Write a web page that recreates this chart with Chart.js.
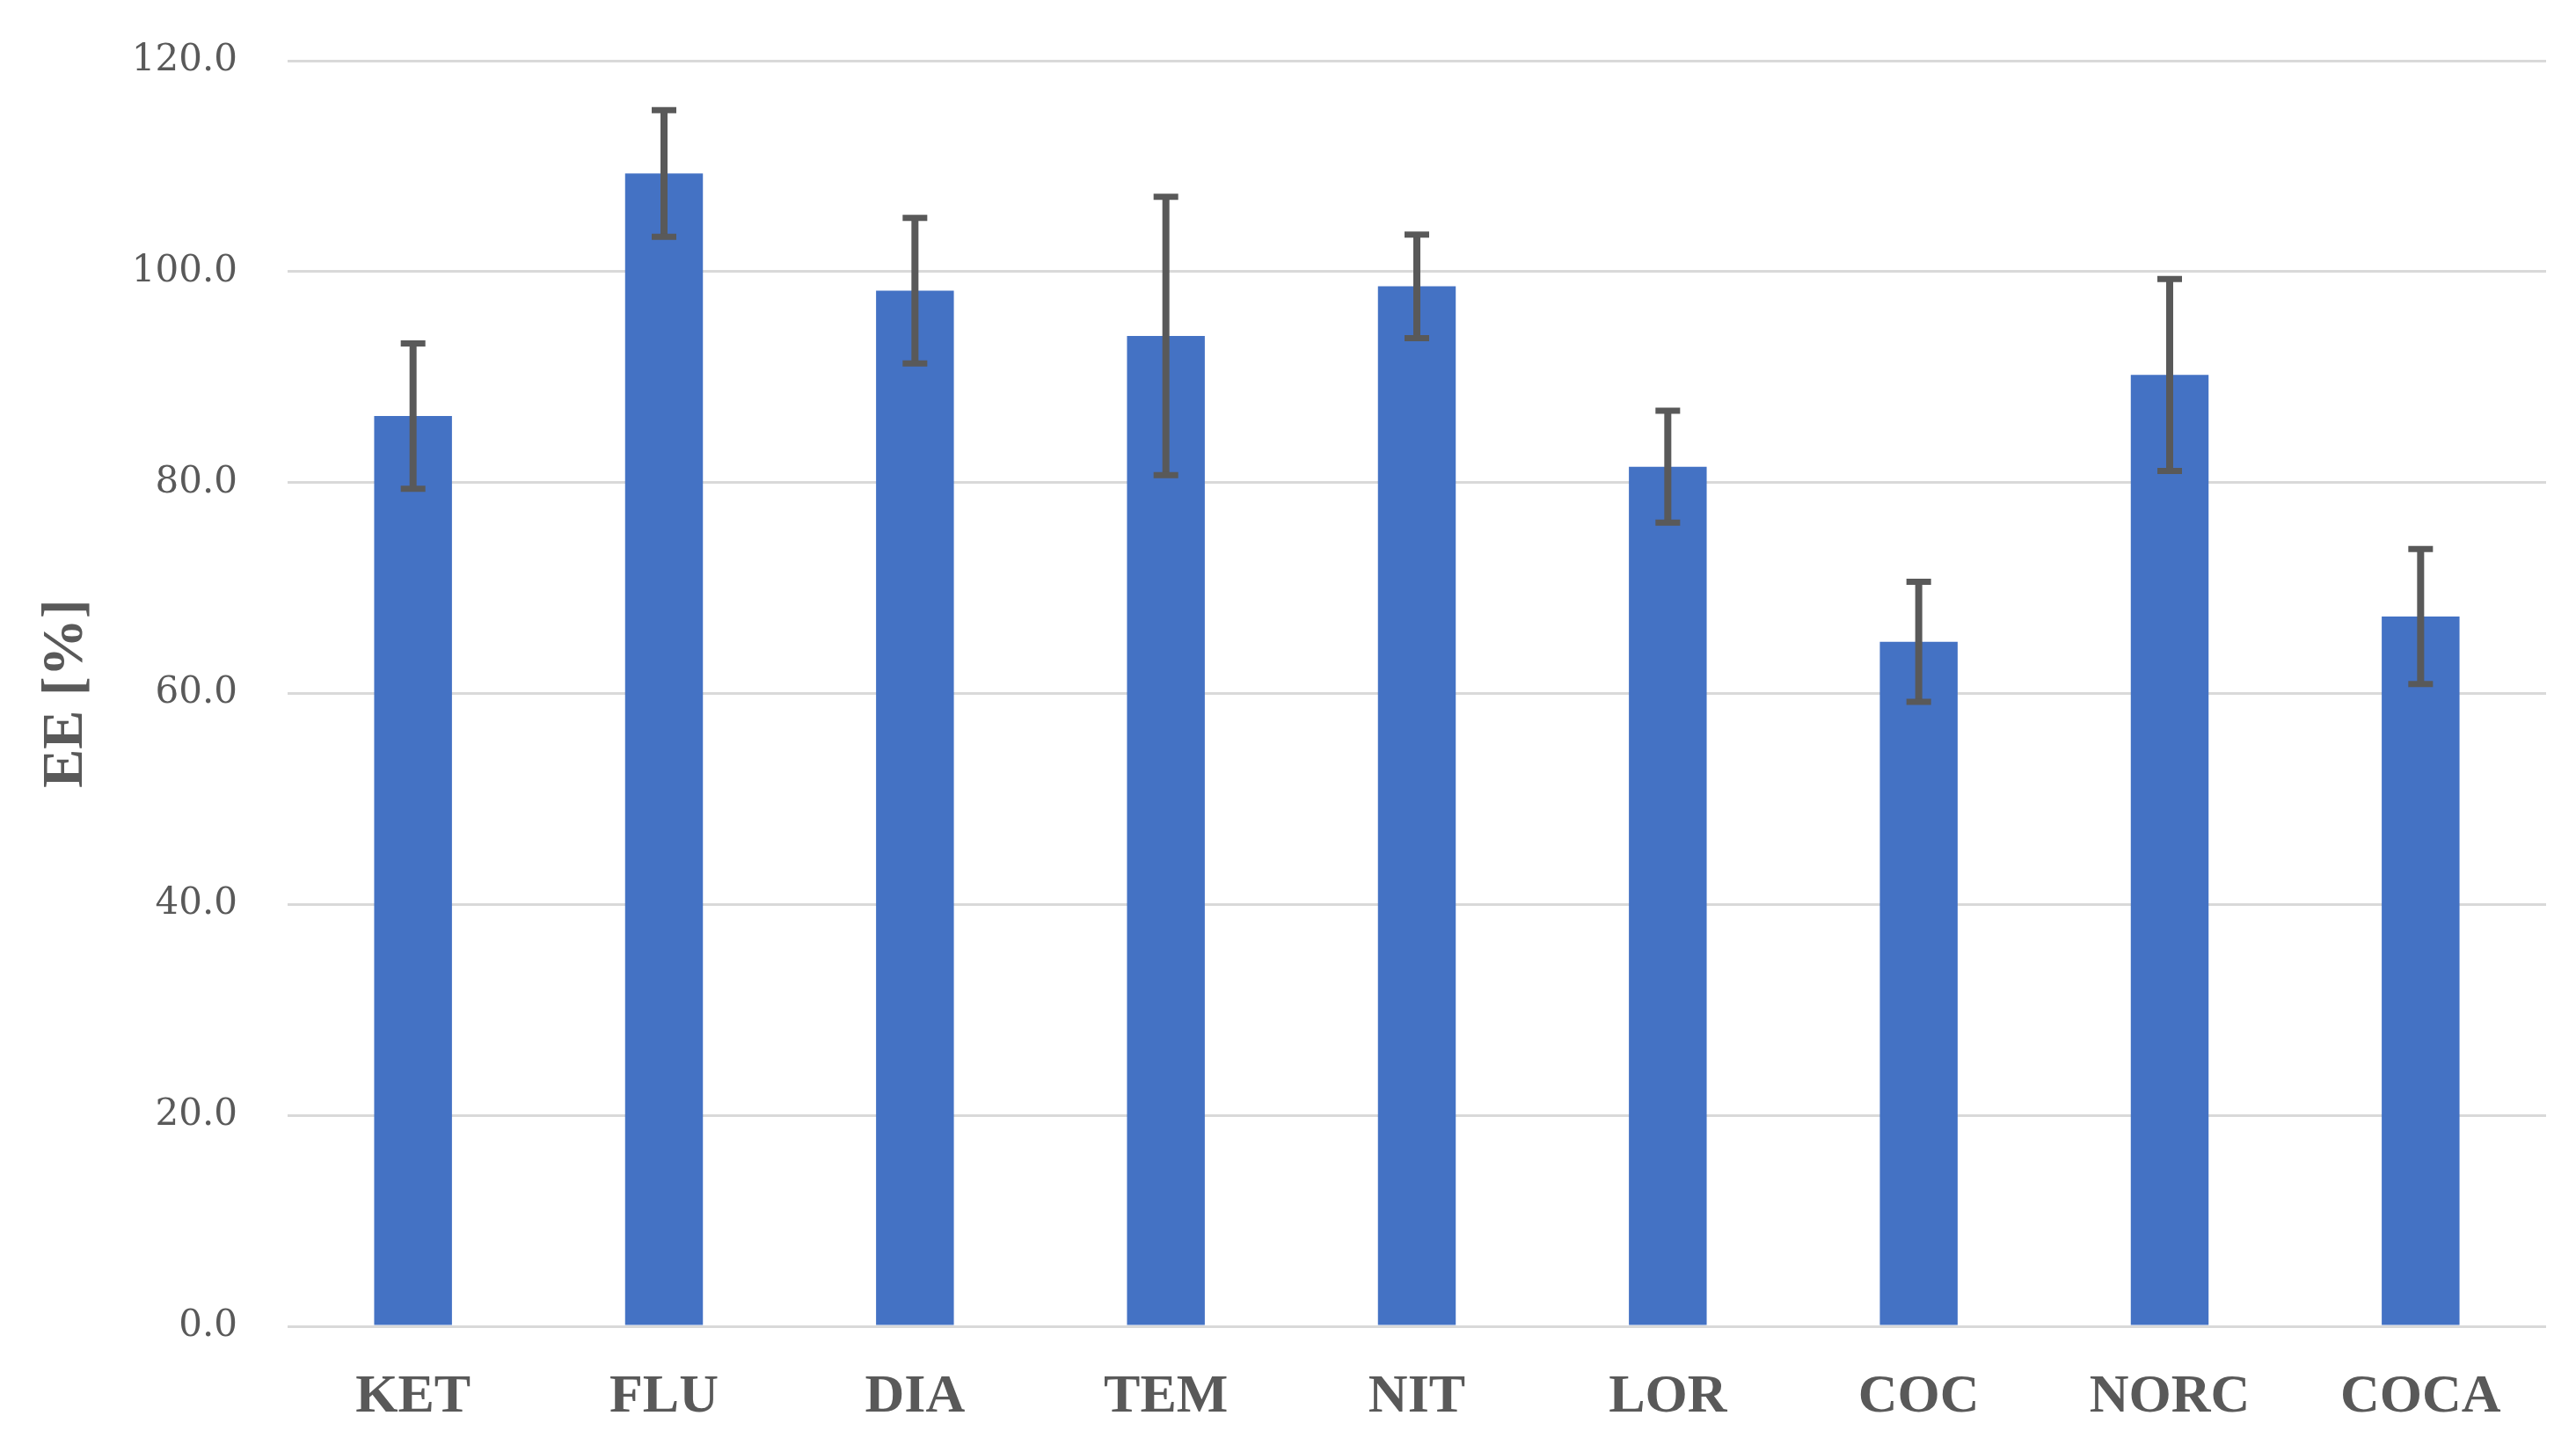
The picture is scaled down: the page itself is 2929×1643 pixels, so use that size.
<!DOCTYPE html>
<html>
<head>
<meta charset="utf-8">
<script src="https://cdn.jsdelivr.net/npm/chart.js@4/dist/chart.umd.min.js"></script>
<style>
html,body{margin:0;padding:0;background:#fff;}
#wrap{width:2929px;height:1643px;position:relative;}
</style>
</head>
<body>
<div id="wrap"><canvas id="c"></canvas></div>
<script>
const categories = ["KET","FLU","DIA","TEM","NIT","LOR","COC","NORC","COCA"];
const eeValues = [86.3, 109.3, 98.2, 93.9, 98.6, 81.5, 64.9, 90.2, 67.3];
const eeErrors = [6.9, 6.0, 6.9, 13.2, 4.9, 5.3, 5.7, 9.1, 6.4];
const yTicks = [0, 20, 40, 60, 80, 100, 120];

const errorBarPlugin = {
  id: 'errorBars',
  afterDatasetsDraw(chart) {
    const ctx = chart.ctx;
    const meta = chart.getDatasetMeta(0);
    const y = chart.scales.y;
    ctx.save();
    ctx.strokeStyle = '#595959';
    ctx.lineCap = 'butt';
    meta.data.forEach((bar, i) => {
      const v = eeValues[i], e = eeErrors[i];
      const top = y.getPixelForValue(v + e);
      const bot = y.getPixelForValue(v - e);
      const x = bar.x;
      ctx.lineWidth = 8;
      ctx.beginPath();
      ctx.moveTo(x, top); ctx.lineTo(x, bot);
      ctx.stroke();
      ctx.lineWidth = 7;
      ctx.beginPath();
      ctx.moveTo(x - 14, top); ctx.lineTo(x + 14, top);
      ctx.moveTo(x - 14, bot); ctx.lineTo(x + 14, bot);
      ctx.stroke();
    });
    ctx.restore();
  }
};

new Chart(document.getElementById('c'), {
  type: 'bar',
  data: {
    labels: categories,
    datasets: [{
      data: eeValues,
      backgroundColor: '#4472C4',
      borderWidth: 0,
      barPercentage: 0.31,
      categoryPercentage: 1.0
    }]
  },
  options: {
    responsive: true,
    maintainAspectRatio: false,
    animation: false,
    devicePixelRatio: 1,
    layout: { padding: { top: 69, right: 34, left: 0, bottom: 0 } },
    plugins: { legend: { display: false }, tooltip: { enabled: false } },
    scales: {
      x: {
        grid: { display: false, drawTicks: false },
        border: { display: false },
        ticks: {
          color: '#595959',
          font: { family: 'Liberation Serif', size: 62, weight: 'bold' },
          padding: 44
        },
        afterFit(s) { s.height = 135; s.paddingLeft = 0; s.paddingRight = 0; }
      },
      y: {
        min: 0, max: 120,
        afterBuildTicks(s) { s.ticks = yTicks.map(v => ({ value: v })); },
        grid: { color: '#d9d9d9', lineWidth: 3, drawTicks: false },
        border: { display: false },
        ticks: {
          color: '#595959',
          font: { family: 'DejaVu Serif', size: 42 },
          padding: 57,
          callback: v => Number(v).toFixed(1)
        },
        title: {
          display: true,
          text: 'EE [%]',
          color: '#595959',
          font: { family: 'Liberation Serif', size: 66, weight: 'bold' },
          padding: { top: 36, bottom: 20 }
        },
        afterFit(s) { s.width = 327; s.paddingTop = 0; s.paddingBottom = 0; }
      }
    }
  },
  plugins: [errorBarPlugin]
});
</script>
</body>
</html>
